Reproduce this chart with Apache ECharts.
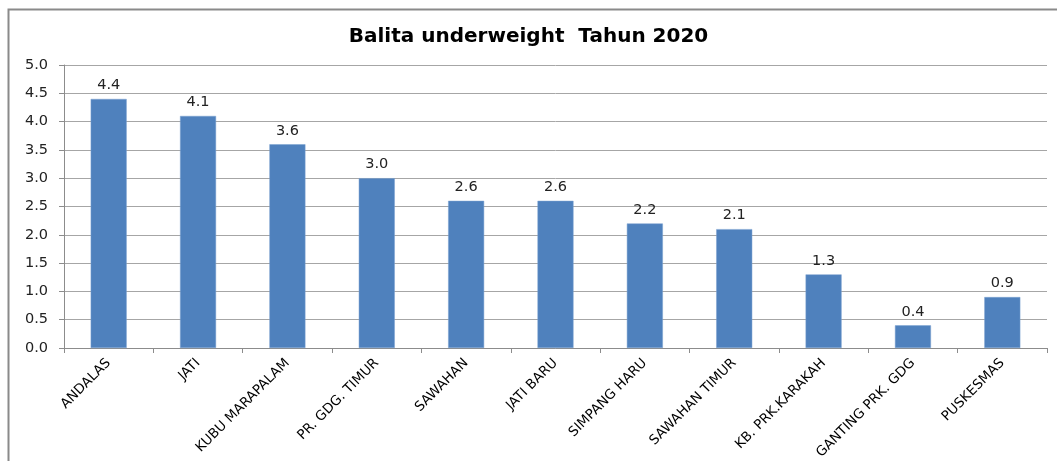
<!DOCTYPE html>
<html>
<head>
<meta charset="utf-8">
<script src="https://cdn.jsdelivr.net/npm/echarts@6/dist/echarts.min.js"></script>
<style>
  html, body { margin: 0; padding: 0; background: #fff; }
  #chart { width: 1057px; height: 461px; }
</style>
</head>
<body>
<div id="chart"></div>
<script>
const categories = ['ANDALAS', 'JATI', 'KUBU MARAPALAM', 'PR. GDG. TIMUR', 'SAWAHAN', 'JATI BARU',
  'SIMPANG HARU', 'SAWAHAN TIMUR', 'KB. PRK.KARAKAH', 'GANTING PRK. GDG', 'PUSKESMAS'];
const values = [4.4, 4.1, 3.6, 3.0, 2.6, 2.6, 2.2, 2.1, 1.3, 0.4, 0.9];

const chart = echarts.init(document.getElementById('chart'));
const font = 'DejaVu Sans';

chart.setOption({
  animation: false,
  title: {
    text: 'Balita underweight  Tahun 2020',
    left: 'center',
    top: 22,
    textStyle: { fontFamily: font, fontSize: 20, fontWeight: 'bold', color: '#000' }
  },
  graphic: [{
    type: 'rect',
    shape: { x: 8.5, y: 9.5, width: 1060, height: 470 },
    style: { fill: 'none', stroke: '#8a8a8a', lineWidth: 2 },
    silent: true
  }],
  grid: { left: 64, right: 10, top: 65, bottom: 113, containLabel: false, outerBoundsMode: 'none' },
  xAxis: {
    type: 'category',
    data: categories,
    axisLine: { lineStyle: { color: '#8c8c8c' } },
    axisTick: { show: true, length: 5, lineStyle: { color: '#8c8c8c' } },
    axisLabel: { rotate: 45, fontFamily: font, fontSize: 13.5, color: '#000', margin: 13, interval: 0 }
  },
  yAxis: {
    type: 'value',
    min: 0, max: 5, interval: 0.5,
    axisLine: { show: true, lineStyle: { color: '#8c8c8c' } },
    axisTick: { show: true, length: 5, lineStyle: { color: '#8c8c8c' } },
    splitLine: { lineStyle: { color: '#a6a6a6' } },
    axisLabel: { fontFamily: font, fontSize: 14.5, color: '#222', margin: 16, formatter: v => v.toFixed(1) }
  },
  series: [{
    type: 'bar',
    data: values,
    barWidth: 36,
    itemStyle: { color: '#4f81bd', borderColor: '#7aa0d0', borderWidth: 0.5 },
    label: {
      show: true, position: 'top', distance: 6,
      fontFamily: font, fontSize: 14.5, color: '#222',
      formatter: p => p.value.toFixed(1)
    }
  }]
});
</script>
</body>
</html>
